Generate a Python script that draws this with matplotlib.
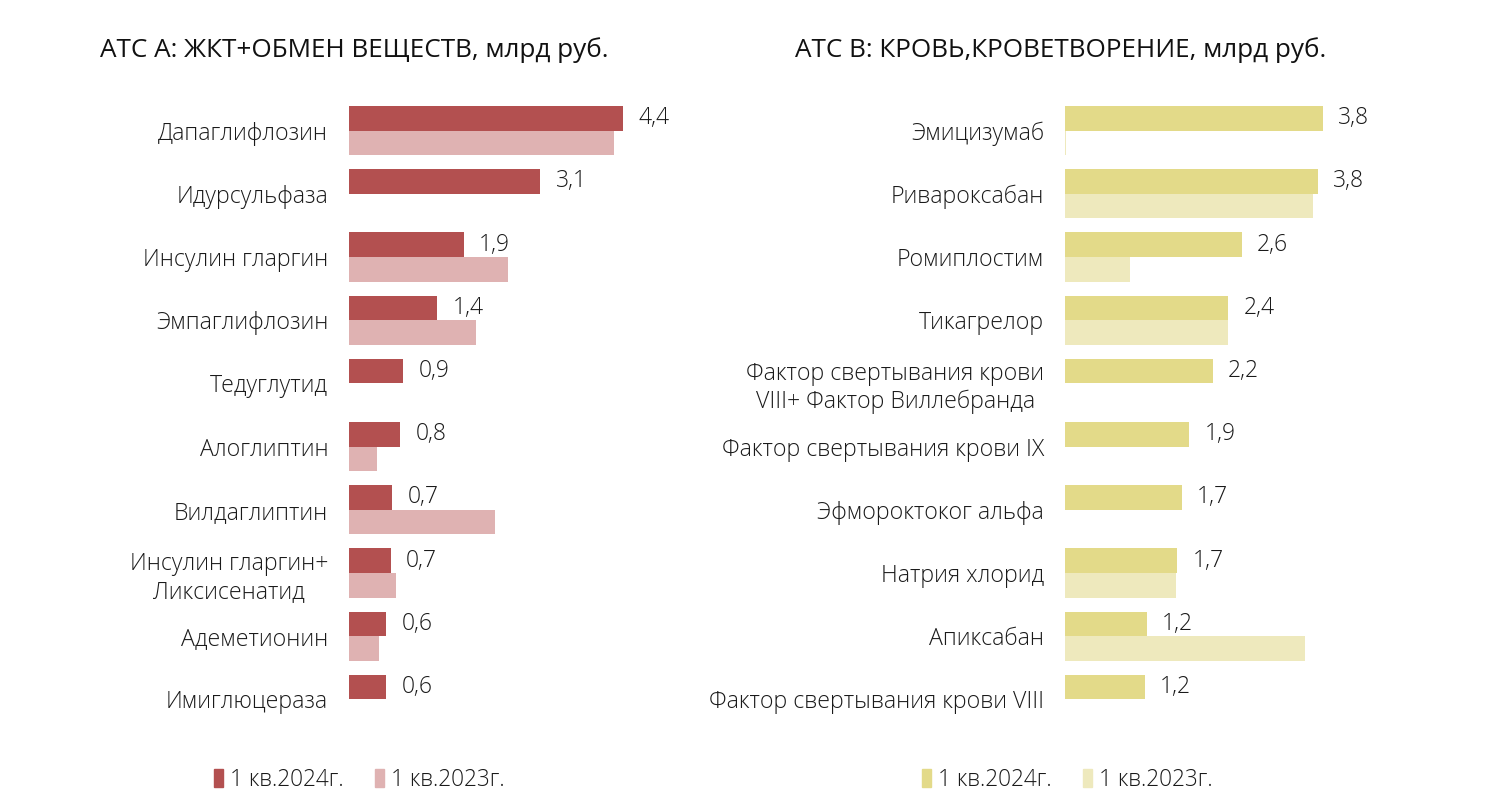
"""Two-panel horizontal bar chart: top drugs by ATC group, bn rub."""

import matplotlib

matplotlib.use("Agg")
import matplotlib.pyplot as plt
from matplotlib.patches import Patch

plt.rcParams["font.family"] = ["Open Sans", "DejaVu Sans"]
plt.rcParams["font.weight"] = "light"

# ATC A panel
drugs_a = [
    "Дапаглифлозин",
    "Идурсульфаза",
    "Инсулин гларгин",
    "Эмпаглифлозин",
    "Тедуглутид",
    "Алоглиптин",
    "Вилдаглиптин",
    "Инсулин гларгин+\nЛиксисенатид",
    "Адеметионин",
    "Имиглюцераза",
]
a_2024 = [4.44, 3.10, 1.86, 1.43, 0.88, 0.83, 0.70, 0.68, 0.60, 0.60]
a_2023 = [4.29, 0.0, 2.58, 2.06, 0.0, 0.45, 2.37, 0.76, 0.49, 0.0]

# ATC B panel
drugs_b = [
    "Эмицизумаб",
    "Ривароксабан",
    "Ромиплостим",
    "Тикагрелор",
    "Фактор свертывания крови\nVIII+ Фактор Виллебранда",
    "Фактор свертывания крови IX",
    "Эфмороктоког альфа",
    "Натрия хлорид",
    "Апиксабан",
    "Фактор свертывания крови VIII",
]
b_2024 = [3.84, 3.76, 2.63, 2.43, 2.20, 1.85, 1.74, 1.67, 1.22, 1.19]
b_2023 = [0.02, 3.69, 0.97, 2.43, 0.0, 0.0, 0.0, 1.65, 3.57, 0.0]

titles = ["АТС А: ЖКТ+ОБМЕН ВЕЩЕСТВ, млрд руб.",
          "АТС В: КРОВЬ,КРОВЕТВОРЕНИЕ, млрд руб."]
series_names = ["1 кв.2024г.", "1 кв.2023г."]

RED = "#b35050"
PINK = "#dfb2b2"
YELLOW = "#e3da89"
PALE = "#eee9bd"

W, H = 1487, 811
fig = plt.figure(figsize=(W / 100, H / 100), dpi=100)

ax_bottom = (H - 731) / H
ax_height = 632 / H
ax_a = fig.add_axes([349 / W, ax_bottom, 308.5 / W, ax_height])
ax_b = fig.add_axes([1065 / W, ax_bottom, 336 / W, ax_height])


def draw_panel(ax, names, new, old, c_new, c_old):
    pos = list(range(len(names)))
    bar_h = 0.39
    ax.barh([p - bar_h / 2 for p in pos], new, height=bar_h, color=c_new)
    ax.barh([p + bar_h / 2 for p in pos], old, height=bar_h, color=c_old)
    for p, v in zip(pos, new):
        ax.annotate(f"{v:.1f}".replace(".", ","), (v, p - bar_h / 2),
                    xytext=(11, 0), textcoords="offset points",
                    va="center", ha="left", fontsize=16.5, color="#1a1a1a")
    ax.set_yticks(pos)
    ax.set_yticklabels(names, fontsize=16.7, color="#1a1a1a",
                       multialignment="center", linespacing=1.2)
    ax.set_ylim(len(names) - 0.5, -0.5)
    ax.set_xlim(0, 5)
    ax.tick_params(axis="y", length=0, pad=15)
    ax.set_xticks([])
    for side in ax.spines.values():
        side.set_visible(False)


draw_panel(ax_a, drugs_a, a_2024, a_2023, RED, PINK)
draw_panel(ax_b, drugs_b, b_2024, b_2023, YELLOW, PALE)

fig.text(100 / W, 1 - 50 / H, titles[0], fontsize=18.8, fontweight="normal",
         color="#111111", va="center", ha="left")
fig.text(795 / W, 1 - 50 / H, titles[1], fontsize=18.8, fontweight="normal",
         color="#111111", va="center", ha="left")

for x0, colors in ((214, (RED, PINK)), (922, (YELLOW, PALE))):
    handles = [Patch(color=c, label=n) for c, n in zip(colors, series_names)]
    fig.legend(handles=handles, loc="center left",
               bbox_to_anchor=(x0 / W, 31 / H), ncol=2, frameon=False,
               fontsize=16.3, handlelength=0.4, handleheight=0.85,
               handletextpad=0.3, columnspacing=1.4, borderpad=0,
               borderaxespad=0, labelcolor="#1a1a1a")

fig.savefig("out.png", dpi=100)
